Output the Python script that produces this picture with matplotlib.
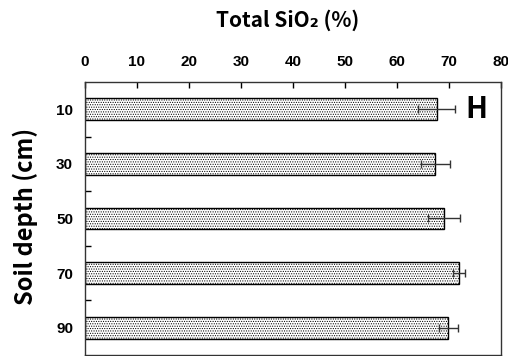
import matplotlib
matplotlib.use('Agg')
import matplotlib.pyplot as plt

plt.rcParams['font.family'] = ['Noto Sans CJK KR', 'DejaVu Sans']
plt.rcParams['hatch.color'] = '#a0a0a0'
plt.rcParams['hatch.linewidth'] = 0.5

# 데이터
depth = [10, 30, 50, 70, 90]
sio2 = [67.6, 67.4, 69.1, 71.9, 69.9]
sio2_err = [3.5, 2.8, 3.1, 1.2, 1.8]
xticks = [0, 10, 20, 30, 40, 50, 60, 70, 80]

fig = plt.figure(figsize=(5.08, 3.56), dpi=100)
ax = fig.add_axes([0.1673, 0.0028, 0.8189, 0.767])

ax.barh(depth, sio2, height=8, color='white', edgecolor='black',
        linewidth=1.0, hatch='.......')
ax.errorbar(sio2, depth, xerr=sio2_err, fmt='none', ecolor='#333333',
            elinewidth=1.0, capsize=3, capthick=1.0)

tick_font = dict(family=['Liberation Sans', 'DejaVu Sans'], fontweight='bold', fontsize=11)
ax.set_xlim(0, 80)
ax.set_ylim(100, 0)
ax.xaxis.tick_top()
ax.set_xticks(xticks)
ax.set_xticklabels([str(v) for v in xticks], **tick_font)
ax.set_yticks(depth)
ax.set_yticklabels([str(v) for v in depth], **tick_font)
ax.set_yticks([20, 40, 60, 80], minor=True)
ax.tick_params(axis='x', direction='in', length=4, pad=9.5, width=1)
ax.tick_params(axis='y', which='major', length=0, pad=8.5)
ax.tick_params(axis='y', which='minor', direction='in', length=4, width=1)

for s in ax.spines.values():
    s.set_linewidth(1.0)
    s.set_color('#333333')

fig.text(0.566, 0.944, 'Total SiO₂ (%)', ha='center', va='center',
         fontsize=15, fontweight='bold')
fig.text(0.049, 0.392, 'Soil depth (cm)', ha='center', va='center',
         rotation=90, fontsize=17, fontweight='bold')
ax.text(75.2, 10, 'H', ha='center', va='center', fontsize=21,
        fontweight='bold')

fig.savefig('out.png', dpi=100)
